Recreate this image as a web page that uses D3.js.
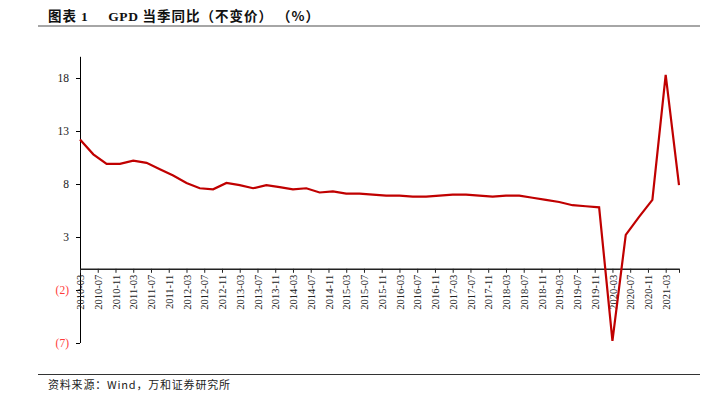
<!DOCTYPE html>
<html><head><meta charset="utf-8">
<script src="https://cdn.jsdelivr.net/npm/d3@7"></script>
<style>body{margin:0;background:#fff}svg{display:block}</style>
</head><body>
<svg id="c" width="717" height="393"></svg>
<script>
const quarters = ["2010-03","2010-06","2010-09","2010-12","2011-03","2011-06","2011-09","2011-12",
"2012-03","2012-06","2012-09","2012-12","2013-03","2013-06","2013-09","2013-12",
"2014-03","2014-06","2014-09","2014-12","2015-03","2015-06","2015-09","2015-12",
"2016-03","2016-06","2016-09","2016-12","2017-03","2017-06","2017-09","2017-12",
"2018-03","2018-06","2018-09","2018-12","2019-03","2019-06","2019-09","2019-12",
"2020-03","2020-06","2020-09","2020-12","2021-03","2021-06"];
const gdpYoY = [12.2,10.8,9.9,9.9,10.2,10.0,9.4,8.8,
8.1,7.6,7.5,8.1,7.9,7.6,7.9,7.7,
7.5,7.6,7.2,7.3,7.1,7.1,7.0,6.9,
6.9,6.8,6.8,6.9,7.0,7.0,6.9,6.8,
6.9,6.9,6.7,6.5,6.3,6.0,5.9,5.8,
-6.8,3.2,4.9,6.5,18.3,7.9];
const yTicks = [-7,-2,3,8,13,18];
const xTickLabels = [];
for (let y=2010; y<=2021; y++) for (const m of ["03","07","11"]) { const s=`${y}-${m}`; if (s<="2021-03") xTickLabels.push(s); }

const titleParts = [["图表","cjk"],[" 1","lat"],["     GPD ","lat"],["当季同比（不变价） （%）","cjk"]];
const source = "资料来源：Wind，万和证券研究所";

const svg = d3.select("#c");
const mi = s => { const [y,m] = s.split("-").map(Number); return y*12 + m; };
const x = d3.scaleLinear().domain([mi("2010-03"), mi("2021-06")]).range([80, 679]);
const y = d3.scaleLinear().domain([-7, 20]).range([343, 56.8]);

// title
const t = svg.append("text").attr("x",48).attr("y",21).attr("font-weight","bold").attr("font-size",13.5)
  .attr("fill","#111").style("white-space","pre");
titleParts.forEach(([s,k]) => t.append("tspan")
  .attr("font-family", k==="cjk" ? "'Noto Sans CJK SC'" : "'Liberation Serif'")
  .attr("letter-spacing", k==="cjk" ? 1 : 0.6).text(s));
svg.append("line").attr("x1",38).attr("x2",700).attr("y1",26).attr("y2",26).attr("stroke","#888").attr("stroke-width",1.5);

// source
svg.append("line").attr("x1",38).attr("x2",700).attr("y1",374.5).attr("y2",374.5).attr("stroke","#333").attr("stroke-width",1.2);
svg.append("text").attr("x",48).attr("y",389).attr("font-family","'Noto Sans CJK SC'")
  .attr("font-size",11).attr("letter-spacing",0.8).attr("fill","#222").text(source);

// y axis
const fmt = v => v < 0 ? `(${-v})` : `${v}`;
const yAxis = svg.append("g").attr("transform","translate(80,0)")
  .call(d3.axisLeft(y).tickValues(yTicks).tickSize(4).tickPadding(7).tickFormat(fmt).tickSizeOuter(0));
yAxis.attr("font-family","'Liberation Serif'");
yAxis.select(".domain").attr("stroke","#000").attr("d", `M0.5,${y(20)}V${y(-7)}`);
yAxis.selectAll("text").attr("font-family","'Liberation Serif'").attr("font-size",11.5)
  .attr("fill", d => d < 0 ? "#ff3b3b" : "#222");
yAxis.selectAll(".tick line").attr("stroke","#000");

// x axis at zero
const xTickVals = xTickLabels.map(mi).concat([mi("2021-06")]);
const xAxis = svg.append("g").attr("transform",`translate(0,${y(0)})`)
  .call(d3.axisBottom(x).tickValues(xTickVals).tickSize(4).tickSizeOuter(0)
    .tickFormat(v => { const i = xTickLabels.map(mi).indexOf(v); return i>=0 ? xTickLabels[i] : ""; }));
xAxis.attr("font-family","'Liberation Serif'");
xAxis.select(".domain").attr("stroke","#222").attr("stroke-width",1.5);
xAxis.selectAll(".tick line").attr("stroke","#222");
xAxis.selectAll("text").attr("font-family","'Liberation Serif'").attr("font-size",10.5).attr("fill","#222")
  .attr("transform","rotate(-90)").attr("text-anchor","end").attr("x",-6).attr("y",0).attr("dy","0.35em");

// line
const line = d3.line().x((d,i)=>x(mi(quarters[i]))).y(d=>y(d));
svg.append("path").datum(gdpYoY).attr("d",line).attr("fill","none").attr("stroke","#c00000")
  .attr("stroke-width",2.2).attr("stroke-linejoin","miter");
</script>
</body></html>
